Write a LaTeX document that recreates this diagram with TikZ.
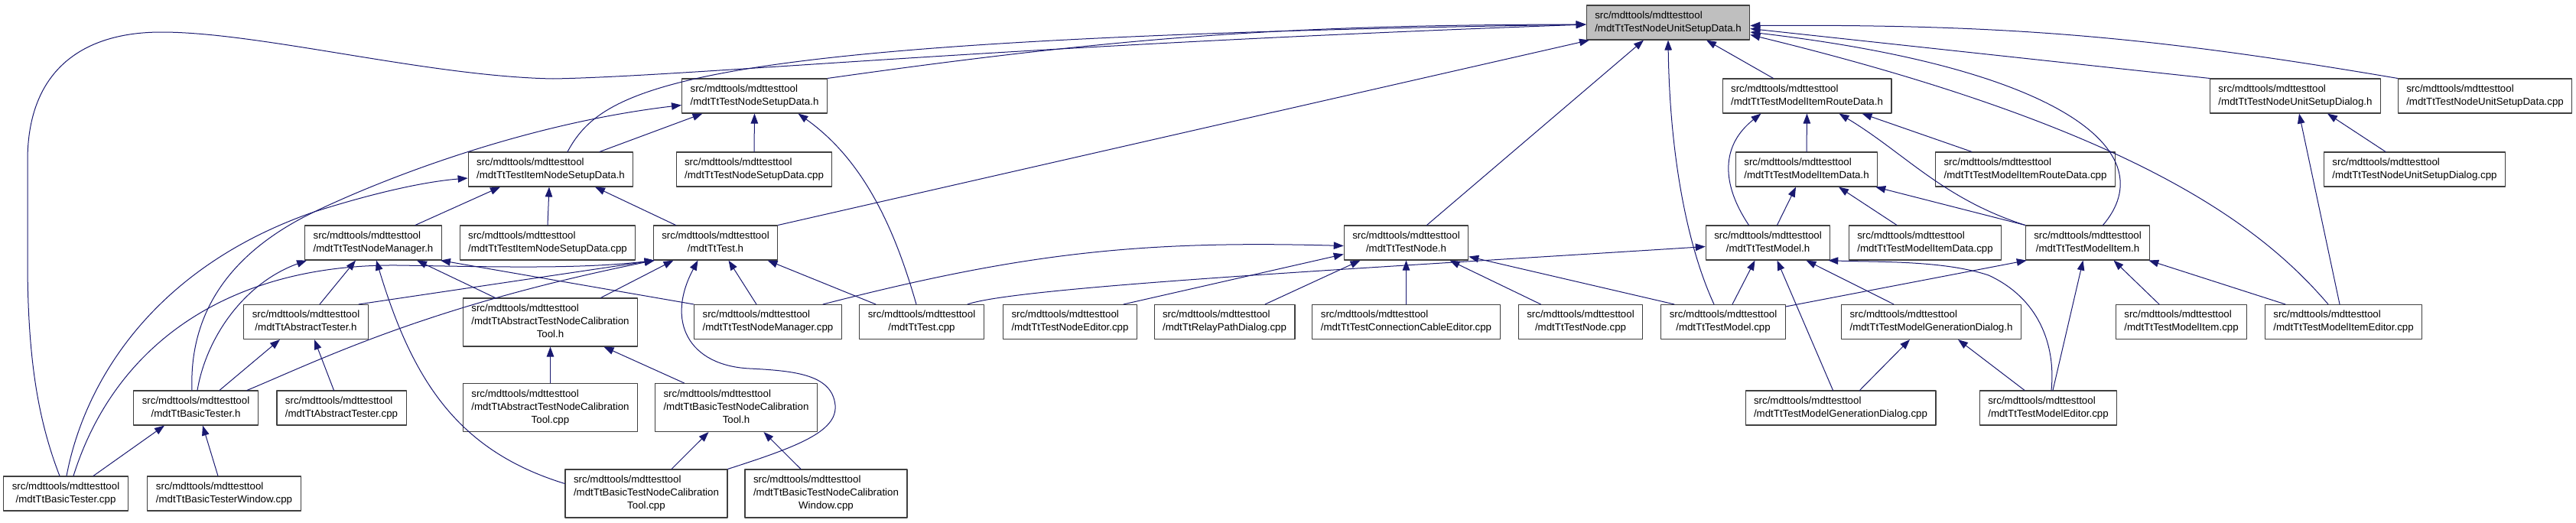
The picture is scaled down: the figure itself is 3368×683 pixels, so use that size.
\documentclass[tikz,border=0pt]{standalone}
\usepackage{fontspec}
\setmainfont{Liberation Sans}
\usepackage{tikz}
\usetikzlibrary{arrows.meta}
\definecolor{edgeblue}{HTML}{191970}
\definecolor{rootgray}{HTML}{BFBFBF}
\definecolor{boxline}{HTML}{404040}
\newcommand{\srcfile}[1]{\begin{tabular}{@{}l@{}}src/mdttools/mdttesttool\\\multicolumn{1}{@{}c@{}}{#1}\end{tabular}}
\newcommand{\srcfilex}[2]{\begin{tabular}{@{}l@{}}src/mdttools/mdttesttool\\#1\\\multicolumn{1}{@{}c@{}}{#2}\end{tabular}}
\tikzset{
  every picture/.style={line join=round, line cap=round, >={Triangle[length=13pt,width=9.5pt]}},
  file/.style={draw=boxline, fill=white, line width=1.1pt, inner xsep=11pt, inner ysep=0pt, minimum height=45pt, font=\fontsize{13.3}{17}\selectfont},
  file3/.style={file, minimum height=63pt},
  rootfile/.style={file, fill=rootgray},
  dep/.style={->, draw=edgeblue, line width=1pt},
}

\begin{document}
\begin{tikzpicture}[x=1pt,y=-1pt]
\useasboundingbox (0,0) rectangle (3368,683);
\node[rootfile] (root) at (2181,29.5) {\srcfile{/mdtTtTestNodeUnitSetupData.h}};
\node[file] (nsd) at (986.5,125.5) {\srcfile{/mdtTtTestNodeSetupData.h}};
\node[file] (mird) at (2362.5,125.5) {\srcfile{/mdtTtTestModelItemRouteData.h}};
\node[file] (nusdlg) at (3001,125.5) {\srcfile{/mdtTtTestNodeUnitSetupDialog.h}};
\node[file] (nusdc) at (3249,125.5) {\srcfile{/mdtTtTestNodeUnitSetupData.cpp}};
\node[file] (insd) at (720,221.5) {\srcfile{/mdtTtTestItemNodeSetupData.h}};
\node[file] (nsdc) at (986,221.5) {\srcfile{/mdtTtTestNodeSetupData.cpp}};
\node[file] (mid) at (2362,221.5) {\srcfile{/mdtTtTestModelItemData.h}};
\node[file] (mirdc) at (2648,221.5) {\srcfile{/mdtTtTestModelItemRouteData.cpp}};
\node[file] (nusdlgc) at (3157,221.5) {\srcfile{/mdtTtTestNodeUnitSetupDialog.cpp}};
\node[file] (nm) at (488,317.5) {\srcfile{/mdtTtTestNodeManager.h}};
\node[file] (insdc) at (716,317.5) {\srcfile{/mdtTtTestItemNodeSetupData.cpp}};
\node[file] (test) at (935.5,317.5) {\srcfile{/mdtTtTest.h}};
\node[file] (tnode) at (1838.5,317.5) {\srcfile{/mdtTtTestNode.h}};
\node[file] (model) at (2311.5,317.5) {\srcfile{/mdtTtTestModel.h}};
\node[file] (midc) at (2517,317.5) {\srcfile{/mdtTtTestModelItemData.cpp}};
\node[file] (mi) at (2729.5,317.5) {\srcfile{/mdtTtTestModelItem.h}};
\node[file] (atst) at (400,421) {\srcfile{/mdtTtAbstractTester.h}};
\node[file3] (atncth) at (719.5,421.5) {\srcfilex{/mdtTtAbstractTestNodeCalibration}{Tool.h}};
\node[file] (nmc) at (1004,421) {\srcfile{/mdtTtTestNodeManager.cpp}};
\node[file] (testc) at (1205,421) {\srcfile{/mdtTtTest.cpp}};
\node[file] (nec) at (1399,421) {\srcfile{/mdtTtTestNodeEditor.cpp}};
\node[file] (rpd) at (1601,421) {\srcfile{/mdtTtRelayPathDialog.cpp}};
\node[file] (cce) at (1838.5,421) {\srcfile{/mdtTtTestConnectionCableEditor.cpp}};
\node[file] (tnodec) at (2066.5,421) {\srcfile{/mdtTtTestNode.cpp}};
\node[file] (modelc) at (2253,421) {\srcfile{/mdtTtTestModel.cpp}};
\node[file] (mgd) at (2525,421) {\srcfile{/mdtTtTestModelGenerationDialog.h}};
\node[file] (mic) at (2852,421) {\srcfile{/mdtTtTestModelItem.cpp}};
\node[file] (mie) at (3064,421) {\srcfile{/mdtTtTestModelItemEditor.cpp}};
\node[file] (bt) at (256,533.5) {\srcfile{/mdtTtBasicTester.h}};
\node[file] (atstc) at (446.5,533.5) {\srcfile{/mdtTtAbstractTester.cpp}};
\node[file3] (atnctc) at (719.5,533) {\srcfilex{/mdtTtAbstractTestNodeCalibration}{Tool.cpp}};
\node[file3] (btncth) at (962.5,533) {\srcfilex{/mdtTtBasicTestNodeCalibration}{Tool.h}};
\node[file] (mgdc) at (2406.5,533.5) {\srcfile{/mdtTtTestModelGenerationDialog.cpp}};
\node[file] (mec) at (2678,533.5) {\srcfile{/mdtTtTestModelEditor.cpp}};
\node[file] (btc) at (86,645.5) {\srcfile{/mdtTtBasicTester.cpp}};
\node[file] (btw) at (293,645.5) {\srcfile{/mdtTtBasicTesterWindow.cpp}};
\node[file3] (btnctc) at (845,645.5) {\srcfilex{/mdtTtBasicTestNodeCalibration}{Tool.cpp}};
\node[file3] (btncw) at (1080,645.5) {\srcfilex{/mdtTtBasicTestNodeCalibration}{Window.cpp}};
\draw[dep] (nsd.north east) to[bend left=4] ([yshift=-2.5pt]root.west);
\draw[dep] ([xshift=22pt]insd.north) .. controls (790,110) and (900,50) .. ([yshift=-2.5pt]root.west);
\draw[dep] ([xshift=-8pt]btc.north) .. controls (50,550) and (36,470) .. (36,340) -- (36,210) .. controls (36,90) and (110,42) .. (211,42) .. controls (340,42) and (560,100) .. (723,103) .. controls (900,100) and (1300,60) .. ([yshift=-2.5pt]root.west);
\draw[dep] (test.north east) -- ([xshift=-103pt]root.south);
\draw[dep] ([xshift=27pt]tnode.north) -- ([xshift=-32pt]root.south);
\draw[dep] ([xshift=-12pt]modelc.north) .. controls (2205,320) and (2183,200) .. (root.south);
\draw[dep] ([xshift=-44pt]mird.north) -- ([xshift=50pt]root.south);
\draw[dep] ([xshift=20pt]mi.north) .. controls (2830,200) and (2700,90) .. ([yshift=-12.5pt]root.east);
\draw[dep] (nusdlg.north west) -- ([yshift=-8pt]root.east);
\draw[dep] (nusdc.north west) to[bend right=5] ([yshift=-4pt]root.east);
\draw[dep] ([xshift=-20pt]mie.north) .. controls (2960,300) and (2800,170) .. ([yshift=-16pt]root.east);
\draw[dep] ([xshift=64pt]insd.north) -- ([xshift=-68pt]nsd.south);
\draw[dep] (nsdc.north) -- (nsd.south);
\draw[dep] ([xshift=-7pt]testc.north) .. controls (1170,300) and (1130,210) .. ([xshift=57pt]nsd.south);
\draw[dep] ([xshift=1pt]btc.north) .. controls (110,500) and (200,350) .. (411,277) .. controls (480,255) and (550,238) .. ([yshift=-11.5pt]insd.west);
\draw[dep] ([xshift=-5pt]bt.north) .. controls (248,430) and (280,340) .. (411,277) .. controls (520,225) and (700,160) .. ([yshift=-12pt]nsd.west);
\draw[dep] ([xshift=55pt]nm.north) -- ([xshift=-66pt]insd.south);
\draw[dep] ([xshift=2pt]bt.north) .. controls (270,440) and (320,370) .. ([xshift=3pt]nm.south west);
\draw[dep] ([xshift=18pt]atst.north) -- ([xshift=-23pt]nm.south);
\draw[dep] ([yshift=13pt]btnctc.west) .. controls (600,590) and (540,500) .. ([xshift=4pt]nm.south);
\draw[dep] ([xshift=-72pt]atncth.north) -- ([xshift=57pt]nm.south);
\draw[dep] (nmc.north west) -- ([xshift=-2pt]nm.south east);
\draw[dep] ([xshift=69pt]atst.north) -- ([xshift=2pt]test.south west);
\draw[dep] ([xshift=67pt]bt.north) .. controls (420,470) and (560,400) .. ([xshift=2pt]test.south west);
\draw[dep] ([xshift=10pt]btc.north) .. controls (150,450) and (300,345) .. (520,347) .. controls (650,349) and (760,352) .. ([xshift=2pt]test.south west);
\draw[dep] ([xshift=66pt]atncth.north) -- ([xshift=-55pt]test.south);
\draw[dep] (btnctc.north east) .. controls (1040,585) and (1095,565) .. (1092,530) .. controls (1088,490) and (1040,485) .. (980,482) .. controls (900,478) and (870,420) .. ([xshift=-23pt]test.south);
\draw[dep] ([xshift=-15pt]nmc.north) -- ([xshift=17pt]test.south);
\draw[dep] ([xshift=-60pt]testc.north) -- ([xshift=68pt]test.south);
\draw[dep] ([xshift=-52pt]test.north) -- ([xshift=58pt]insd.south);
\draw[dep] (insdc.north) -- ([xshift=-2pt]insd.south);
\draw[dep] ([xshift=72pt]nmc.north) to[bend left=8] ([yshift=-4pt]tnode.west);
\draw[dep] ([xshift=70pt]nec.north) -- ([yshift=-15pt]tnode.west);
\draw[dep] ([xshift=53pt]rpd.north) -- ([xshift=-60pt]tnode.south);
\draw[dep] (cce.north) -- (tnode.south);
\draw[dep] ([xshift=-52pt]tnodec.north) -- ([xshift=57pt]tnode.south);
\draw[dep] ([xshift=-64pt]modelc.north) -- ([yshift=5pt]tnode.south east);
\draw[dep] ([xshift=60pt]testc.north) .. controls (1330,375) and (1800,350) .. ([yshift=-5pt]model.west);
\draw[dep] ([xshift=12pt]modelc.north) -- ([xshift=-17pt]model.south);
\draw[dep] ([xshift=-10pt]mgdc.north) -- ([xshift=12pt]model.south);
\draw[dep] ([xshift=-49pt]mgd.north) -- ([xshift=50pt]model.south);
\draw[dep] ([xshift=4pt]mec.north) .. controls (2688,450) and (2665,390) .. (2600,360) .. controls (2540,340) and (2450,343) .. ([xshift=-3pt]model.south east);
\draw[dep] ([yshift=-3pt]modelc.north east) -- ([xshift=2pt]mi.south west);
\draw[dep] ([xshift=6pt]mec.north) -- ([xshift=-6pt]mi.south);
\draw[dep] ([xshift=-29pt]mic.north) -- ([xshift=34pt]mi.south);
\draw[dep] ([xshift=-76pt]mie.north) -- ([xshift=-2pt]mi.south east);
\draw[dep] ([xshift=-5pt]mie.north) -- ([xshift=5pt]nusdlg.south);
\draw[dep] ([xshift=-38pt]nusdlgc.north) -- ([xshift=42pt]nusdlg.south);
\draw[dep] ([xshift=-25pt]model.north) .. controls (2250,240) and (2250,190) .. ([xshift=-60pt]mird.south);
\draw[dep] ([xshift=12pt]model.north) -- ([xshift=-14pt]mid.south);
\draw[dep] (mid.north) -- (mird.south);
\draw[dep] (mi.north west) .. controls (2540,260) and (2490,200) .. ([xshift=42pt]mird.south);
\draw[dep] (mi.north west) -- ([xshift=-3pt]mid.south east);
\draw[dep] ([xshift=-37pt]midc.north) -- ([xshift=42pt]mid.south);
\draw[dep] ([xshift=-70pt]mirdc.north) -- ([xshift=72pt]mird.south);
\draw[dep] ([xshift=25pt]mgdc.north) -- ([xshift=-28pt]mgd.south);
\draw[dep] ([xshift=-31pt]mec.north) -- ([xshift=35pt]mgd.south);
\draw[dep] ([xshift=31pt]bt.north) -- ([xshift=-34pt]atst.south);
\draw[dep] ([xshift=-10pt]atstc.north) -- ([xshift=11pt]atst.south);
\draw[dep] ([xshift=36pt]btc.north) -- ([xshift=-41pt]bt.south);
\draw[dep] ([xshift=-8pt]btw.north) -- ([xshift=9pt]bt.south);
\draw[dep] (atnctc.north) -- (atncth.south);
\draw[dep] ([xshift=-68pt]btncth.north) -- ([xshift=70pt]atncth.south);
\draw[dep] ([xshift=33pt]btnctc.north) -- ([xshift=-36pt]btncth.south);
\draw[dep] ([xshift=-33pt]btncw.north) -- ([xshift=36pt]btncth.south);
\end{tikzpicture}
\end{document}
